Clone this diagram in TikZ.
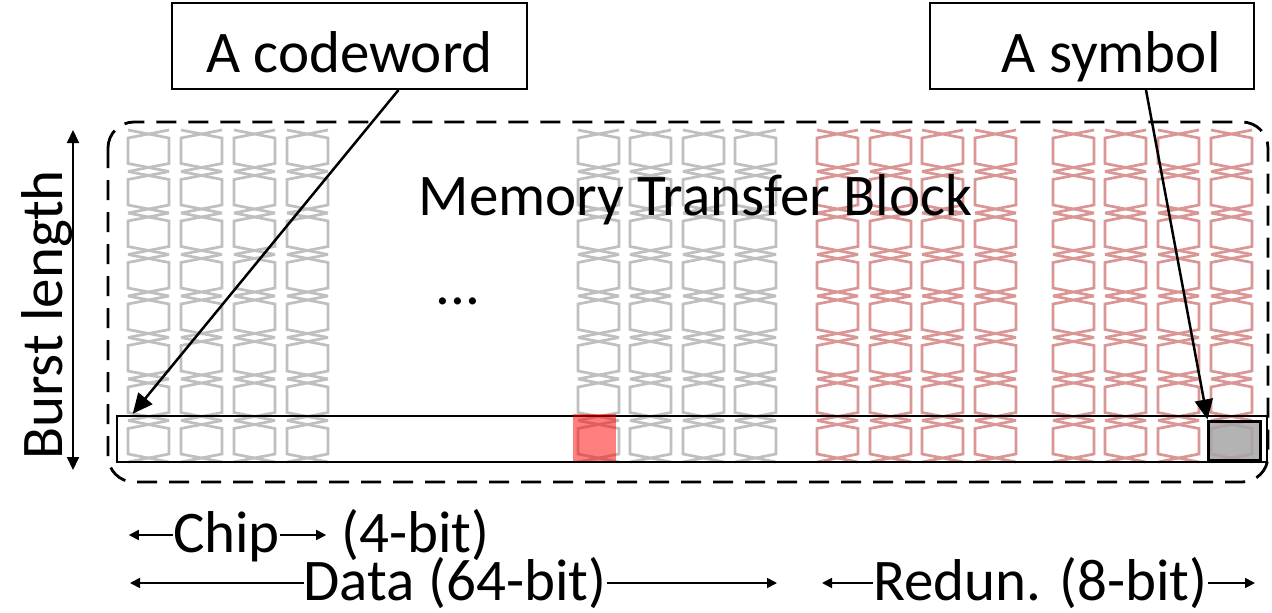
\documentclass[tikz,border=0pt]{standalone}
\usepackage{fontspec}
\setmainfont{Carlito}
\usetikzlibrary{arrows.meta}
\definecolor{cellgray}{HTML}{BFBFBF}
\definecolor{cellred}{HTML}{DA9694}
\definecolor{symgray}{HTML}{A6A6A6}
\begin{document}
\begin{tikzpicture}[x=1pt,y=-1pt,
  every node/.style={font=\fontsize{59}{70}\selectfont, inner sep=0pt},
  gcell/.style={draw=cellgray, line width=2.7pt},
  rcell/.style={draw=cellred, line width=2.7pt},
  labelbox/.style={draw, line width=2pt, fill=white, minimum height=86pt},
  conn/.style={line width=2.5pt, -{Triangle[length=20pt,width=18pt]}},
  dim/.style={line width=1.8pt, -{Triangle[length=10pt,width=10pt]}},
  dimboth/.style={line width=2pt, {Triangle[length=13pt,width=12pt]}-{Triangle[length=13pt,width=12pt]}},
  mtb/.style={line width=2.8pt, dash pattern=on 20pt off 12pt, rounded corners=26pt},
]
\useasboundingbox (0,0) rectangle (1272,613);
\fill[white] (0,0) rectangle (1272,613);

% data columns (gray)
\foreach \L in {128,181,234,287,578,630,683,735}{
  \foreach \i in {0,...,7}{
    \pgfmathsetmacro\yt{130+41.5*\i}
    \pgfmathsetmacro\yb{\yt+41.5}
    \draw[gcell] (\L+41,\yt) -- (\L,\yt+8) -- (\L,\yb-8) -- (\L+41,\yb);
    \draw[gcell] (\L,\yt) -- (\L+41,\yt+8) -- (\L+41,\yb-8) -- (\L,\yb);
  }}
% redundancy columns (red)
\foreach \L in {817,870,922,975,1053,1105,1158,1211}{
  \foreach \i in {0,...,7}{
    \pgfmathsetmacro\yt{130+41.5*\i}
    \pgfmathsetmacro\yb{\yt+41.5}
    \draw[rcell] (\L+41,\yt) -- (\L,\yt+8) -- (\L,\yb-8) -- (\L+41,\yb);
    \draw[rcell] (\L,\yt) -- (\L+41,\yt+8) -- (\L+41,\yb-8) -- (\L,\yb);
  }}

% memory transfer block
\draw[mtb] (108,122) rectangle (1268,482);
\node[anchor=base] (mtbtext) at (695.5,215) {Memory Transfer Block};
\node[anchor=base] (dots) at (458,304) {...};

% codeword row
\node[draw, line width=2.5pt, minimum width=1150pt, minimum height=46pt] (cw) at (692,439) {};
\node[fill=red, fill opacity=0.5, minimum width=43pt, minimum height=47pt] (err) at (594.5,437.5) {};
\node[draw, line width=3pt, fill=symgray, fill opacity=0.85, minimum width=52pt, minimum height=39pt] (sym) at (1234,440.5) {};

% labels on top
\node[labelbox, minimum width=355pt, text height=52pt, text depth=0pt] (cwlabel) at (349.5,46) {A codeword};
\node[labelbox, minimum width=324pt] (symlabel) at (1092,46) {};
\node[anchor=base] (symtext) at (1111,72) {A symbol};

\draw[conn] ([xshift=49pt]cwlabel.south) -- ([xshift=17pt,yshift=1pt]cw.north west);
\draw[conn] ([xshift=54pt]symlabel.south) -- ([xshift=1pt]sym.north west);

% burst length
\coordinate (bltop) at (73,130);
\coordinate (blbot) at (73,470);
\draw[dimboth] (bltop) -- (blbot);
\node[anchor=base, rotate=90] (bltext) at (62,315) {Burst length};

% bottom dimension labels
\node[anchor=base] (chip) at (226.5,552) {Chip};
\draw[dim] ([yshift=17pt]chip.base west) -- ++(-44,0);
\draw[dim] ([yshift=17pt]chip.base east) -- ++(46,0);
\node[anchor=base] (fourbit) at (415.5,552) {(4-bit)};

\node[anchor=base] (data) at (455,600) {Data (64-bit)};
\draw[dim] ([yshift=17pt]data.base west) -- (130,583);
\draw[dim] ([yshift=17pt]data.base east) -- (777,583);

\node[anchor=base] (redun) at (1040.5,600) {Redun. (8-bit)};
\draw[dim] ([yshift=17pt]redun.base west) -- (822,583);
\draw[dim] ([yshift=17pt]redun.base east) -- (1255,583);
\end{tikzpicture}
\end{document}
